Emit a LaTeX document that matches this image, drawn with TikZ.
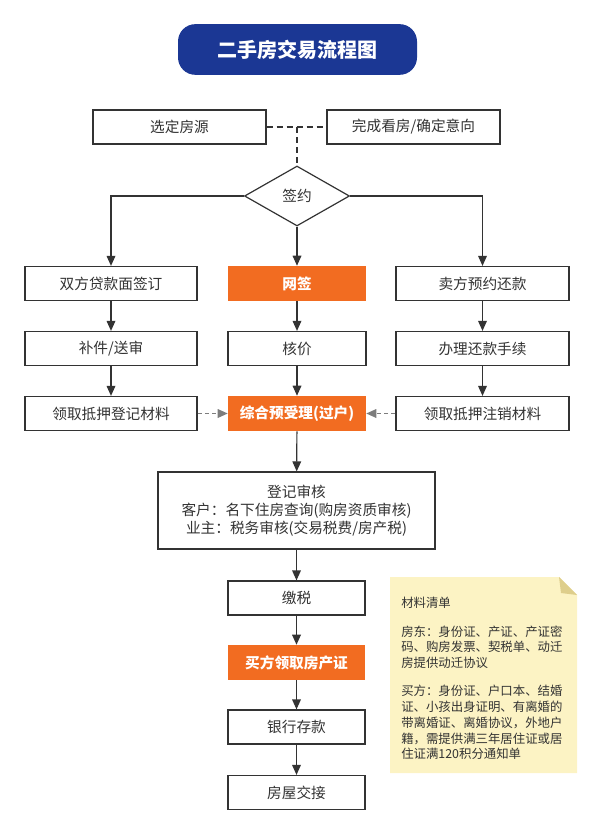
\documentclass[tikz,border=0pt]{standalone}
\usepackage{fontspec}
\setmainfont{Noto Sans CJK SC}
\usetikzlibrary{shapes.geometric,arrows.meta}
\definecolor{flowline}{RGB}{51,51,51}
\definecolor{titleblue}{RGB}{27,55,148}
\definecolor{keyorange}{RGB}{242,108,33}
\definecolor{noteyellow}{RGB}{252,243,196}
\definecolor{notefold}{RGB}{222,206,140}
\definecolor{dashgray}{RGB}{125,125,125}

\begin{document}
\begin{tikzpicture}[x=0.75pt,y=0.75pt,yscale=-1,xscale=1,
		stepbox/.style={draw=flowline,line width=0.9pt,fill=white,text=flowline,font=\fontsize{11}{13}\selectfont,minimum height=25.5pt,inner sep=0pt},
		keybox/.style={fill=keyorange,text=white,font=\fontsize{11}{13}\selectfont\bfseries,minimum height=26.25pt,inner sep=0pt},
		arr/.style={draw=flowline,line width=0.9pt,-{Triangle[length=7.5pt,width=6.5pt]}},
		dasharr/.style={draw=dashgray,line width=0.9pt,dash pattern=on 3pt off 2.5pt,-{Triangle[length=7.5pt,width=6.5pt]}},
		joinline/.style={draw=flowline,line width=0.9pt,dash pattern=on 4.5pt off 3pt}]
		\useasboundingbox (0,0) rectangle (600,834);
		\node (title) at (297.5,49.5) [fill=titleblue,rounded corners=13pt,minimum width=179.25pt,minimum height=38pt,inner sep=0pt,text=white,font=\fontsize{15}{17}\selectfont\bfseries] {二手房交易流程图};
		\node (pick) at (179.5,127) [stepbox,minimum width=129.75pt] {选定房源};
		\node (view) at (413.5,127) [stepbox,minimum width=129.75pt] {完成看房/确定意向};
		\coordinate (meet) at (297,127);
		\node (sign) at (297,196) [diamond,draw=flowline,line width=0.9pt,fill=white,text=flowline,minimum width=78.75pt,minimum height=45pt,inner sep=0pt,font=\fontsize{11}{13}\selectfont] {签约};
		\node (loan) at (111,283.5) [stepbox,minimum width=129pt] {双方贷款面签订};
		\node (net) at (297,283.5) [keybox,minimum width=103.5pt] {网签};
		\node (repay) at (482.5,283.5) [stepbox,minimum width=129.75pt] {卖方预约还款};
		\node (docs) at (111,348.5) [stepbox,minimum width=129pt] {补件/送审};
		\node (price) at (297,348.5) [stepbox,minimum width=103.5pt] {核价};
		\node (clear) at (482.5,348.5) [stepbox,minimum width=129.75pt] {办理还款手续};
		\node (mortreg) at (111,413.5) [stepbox,minimum width=129pt] {领取抵押登记材料};
		\node (accept) at (297,413.5) [keybox,minimum width=103.5pt] {综合预受理(过户)};
		\node (mortoff) at (482.5,413.5) [stepbox,minimum width=129.75pt] {领取抵押注销材料};
		\node (check) at (296.5,510.5) [stepbox,minimum width=207.75pt,minimum height=57.75pt,align=center,font=\fontsize{11}{13.5}\selectfont] {登记审核\\客户：名下住房查询(购房资质审核)\\业主：税务审核(交易税费/房产税)};
		\node (tax) at (296.5,598) [stepbox,minimum width=102.75pt] {缴税};
		\node (cert) at (296.5,662.5) [keybox,minimum width=102.75pt] {买方领取房产证};
		\node (bank) at (296.5,727) [stepbox,minimum width=102.75pt] {银行存款};
		\node (handover) at (296.5,792.5) [stepbox,minimum width=102.75pt] {房屋交接};
		\draw [fill=noteyellow,draw=none] (390,577) -- (559,577) -- (577,595) -- (577,773) -- (390,773) -- cycle ;
		\draw [fill=notefold,draw=none] (559,577) -- (577,595) -- (561,593) -- cycle ;
		\node (list) at (401,597) [anchor=north west,inner sep=0pt,align=left,text=flowline,font=\fontsize{9.3}{11.8}\selectfont] {材料清单\\[9.5pt]房东：身份证、产证、产证密\\码、购房发票、契税单、动迁\\房提供动迁协议\\[9.5pt]买方：身份证、户口本、结婚\\证、小孩出身证明、有离婚的\\带离婚证、离婚协议，外地户\\籍，需提供满三年居住证或居\\住证满120积分通知单};
		\draw [joinline] (pick) -- (view) ;
		\draw [joinline] (meet) -- (sign) ;
		\draw [arr] (sign.west) -| (loan.north) ;
		\draw [arr] (sign) -- (net) ;
		\draw [arr] (sign.east) -| (repay.north) ;
		\draw [arr] (loan) -- (docs) ;
		\draw [arr] (docs) -- (mortreg) ;
		\draw [arr] (net) -- (price) ;
		\draw [arr] (price) -- (accept) ;
		\draw [arr] (repay) -- (clear) ;
		\draw [arr] (clear) -- (mortoff) ;
		\draw [dasharr] (mortreg) -- (accept) ;
		\draw [dasharr] (mortoff) -- (accept) ;
		\draw [arr] (accept) -- (check) ;
		\draw [arr] (check) -- (tax) ;
		\draw [arr] (tax) -- (cert) ;
		\draw [arr] (cert) -- (bank) ;
		\draw [arr] (bank) -- (handover) ;
\end{tikzpicture}
\end{document}
